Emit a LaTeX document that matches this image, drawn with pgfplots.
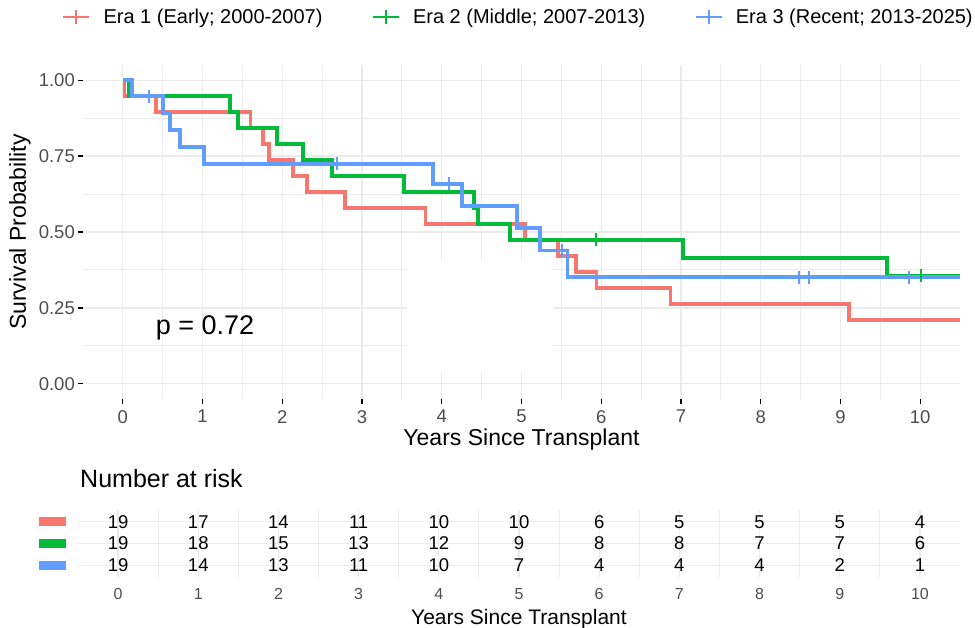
\documentclass[border=0pt]{standalone}
\usepackage{fontspec}
\setmainfont{Liberation Sans}
\usepackage{pgfplots}
\usepackage{pgfplotstable}
\pgfplotsset{compat=1.18}
\definecolor{cRed}{HTML}{F8766D}
\definecolor{cGreen}{HTML}{00BA38}
\definecolor{cBlue}{HTML}{619CFF}
\definecolor{gridc}{HTML}{EBEBEB}
\definecolor{tickc}{HTML}{4D4D4D}
\newcommand{\fs}[1]{\fontsize{#1}{#1}\selectfont}

\pgfplotstableread{
x y n
0 3 19
1 3 17
2 3 14
3 3 11
4 3 10
5 3 10
6 3 6
7 3 5
8 3 5
9 3 5
10 3 4
0 2 19
1 2 18
2 2 15
3 2 13
4 2 12
5 2 9
6 2 8
7 2 8
8 2 7
9 2 7
10 2 6
0 1 19
1 1 14
2 1 13
3 1 11
4 1 10
5 1 7
6 1 4
7 1 4
8 1 4
9 1 2
10 1 1
}\risktable

\begin{document}
\begin{tikzpicture}
\useasboundingbox (0pt,0pt) rectangle (975pt,-628pt);
\begin{axis}[
  at={(83pt,-399pt)}, anchor=south west,
  scale only axis, width=877pt, height=334pt,
  xmin=-0.5, xmax=10.5, ymin=-0.05, ymax=1.05,
  axis line style={draw=none},
  xtick={0,1,2,3,4,5,6,7,8,9,10}, minor x tick num=1,
  xticklabels={0,1,2,3,4,5,6,7,8,9,10},
  ytick={0,0.25,0.5,0.75,1}, minor y tick num=1,
  yticklabels={0.00,0.25,0.50,0.75,1.00},
  grid=both,
  major grid style={gridc, line width=1.2pt},
  minor grid style={gridc, line width=1.0pt},
  tick align=outside, major tick length=5pt, minor tick length=0pt,
  tick style={black, line width=1.2pt},
  xtick pos=bottom, ytick pos=left,
  /pgf/number format/assume math mode=true,
  ticklabel style={font=\fs{18.5}, text=tickc, inner sep=0pt},
  xticklabel style={anchor=north, yshift=-6pt},
  yticklabel style={anchor=east, xshift=-3pt},
  xlabel={Years Since Transplant},
  xlabel style={at={(axis description cs:0.5,-0.1228)}, anchor=center, font=\fs{23}, inner sep=0pt},
  ylabel={Survival Probability},
  ylabel style={at={(axis description cs:-0.0718,0.5)}, anchor=center, font=\fs{23}, inner sep=0pt},
  legend columns=3,
  legend style={at={(axis description cs:-0.0239,1.1437)}, anchor=west, draw=none, fill=none,
    inner sep=0pt, outer sep=0pt, font=\fs{20},
    nodes={inner sep=0pt},
    /tikz/every odd column/.append style={column sep=13pt},
    /tikz/every even column/.append style={column sep=49pt}},
  legend image code/.code={
    \draw[#1, line width=2.5pt] (0pt,0pt) -- (26pt,0pt);
    \draw[#1, line width=2pt] (13pt,-7pt) -- (13pt,7pt);
  },
]
\fill[white] (axis cs:3.56,0.04) rectangle (axis cs:5.40,0.408);

\addplot[const plot, cRed, line width=3.8pt] coordinates {
(0,1) (0.02,0.9474) (0.42,0.8947) (1.60,0.8421) (1.757,0.7895) (1.836,0.7368)
(2.137,0.6842) (2.305,0.6316) (2.785,0.5789) (3.797,0.5263) (5.043,0.4737)
(5.46,0.4211) (5.68,0.3684) (5.94,0.3158) (6.87,0.2632) (9.106,0.2105) (10.5,0.2105)};
\addlegendentry{Era 1 (Early; 2000-2007)}
\addplot[const plot, cGreen, line width=3.8pt] coordinates {
(0,1) (0.07,0.9474) (1.343,0.8947) (1.44,0.8421) (1.93,0.7895) (2.255,0.7368)
(2.62,0.6842) (3.53,0.6316) (4.405,0.5789) (4.45,0.5263) (4.86,0.4737)
(7.03,0.4145) (9.58,0.3553) (10.5,0.3553)};
\addlegendentry{Era 2 (Middle; 2007-2013)}
\addplot[const plot, cBlue, line width=3.8pt] coordinates {
(0,1) (0.11,0.9474) (0.50,0.8916) (0.59,0.8359) (0.716,0.7802) (1.017,0.7245)
(3.893,0.6586) (4.249,0.5854) (4.939,0.5122) (5.231,0.4390) (5.578,0.3512) (10.5,0.3512)};
\addlegendentry{Era 3 (Recent; 2013-2025)}

\addplot[forget plot, only marks, cGreen, mark=|, mark size=6.5pt, mark options={line width=2pt}] coordinates {
(5.94,0.4737) (10.01,0.3553)};
\addplot[forget plot, only marks, cBlue, mark=|, mark size=6.5pt, mark options={line width=2pt}] coordinates {
(0.33,0.9474) (2.685,0.7245) (4.093,0.6586) (5.51,0.4390) (8.479,0.3512) (8.604,0.3512) (9.858,0.3512)};

\node[font=\fs{27}, anchor=base, inner sep=0pt] at (axis cs:1.03,0.161) {p = 0.72};
\end{axis}

\begin{axis}[
  at={(78pt,-577pt)}, anchor=south west,
  scale only axis, width=882pt, height=67pt,
  xmin=-0.5, xmax=10.5, ymin=0.45, ymax=3.55,
  axis line style={draw=none},
  xtick={0,1,2,3,4,5,6,7,8,9,10}, minor x tick num=1,
  xticklabels={0,1,2,3,4,5,6,7,8,9,10},
  ytick={1,2,3},
  yticklabels={\textcolor{cBlue}{\rule{27pt}{9pt}},\textcolor{cGreen}{\rule{27pt}{9pt}},\textcolor{cRed}{\rule{27pt}{9pt}}},
  xmajorgrids=true, xminorgrids=true, ymajorgrids=true,
  major grid style={gridc, line width=1.2pt},
  minor grid style={gridc, line width=1.0pt},
  major tick length=0pt, minor tick length=0pt,
  ticklabel style={inner sep=0pt},
  xticklabel style={font=\fs{16}, text=tickc, anchor=north, yshift=-11pt},
  yticklabel style={anchor=east, xshift=-12pt},
  title={Number at risk},
  title style={at={(axis description cs:0.0023,1.239)}, anchor=base west, font=\fs{25}, inner sep=0pt},
  xlabel={Years Since Transplant},
  xlabel style={at={(axis description cs:0.5,-0.7015)}, anchor=base, font=\fs{21}, inner sep=0pt},
]
\addplot[draw=none, mark=none, nodes near coords, point meta=explicit symbolic,
  every node near coord/.style={font=\fs{18.5}, text=black, anchor=center, inner sep=0pt}]
  table[x=x, y=y, meta=n] {\risktable};
\end{axis}
\end{tikzpicture}
\end{document}
